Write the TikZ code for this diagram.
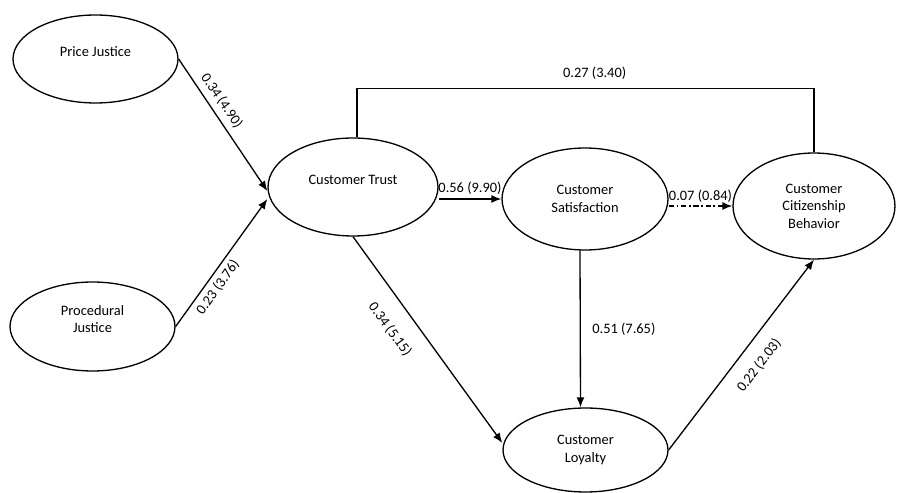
\documentclass[tikz,border=0pt]{standalone}
\usepackage{fontspec}
\setmainfont{Carlito}
\usetikzlibrary{shapes.geometric, arrows.meta, positioning, calc}
\newcommand{\liftup}[2]{\raisebox{#1}[\height][\depth]{#2}}

\begin{document}
\begin{tikzpicture}[x=0.02cm, y=-0.02cm,
    every node/.style={font=\fontsize{8.2}{10}\selectfont},
    construct/.style={draw, ellipse, line width=0.75pt, inner sep=0pt, align=center},
    link/.style={line width=0.75pt, -{Latex[length=2mm, width=1.6mm]}},
    coef/.style={inner sep=1.5pt}]
  \useasboundingbox (0,0) rectangle (897,493);

  \node[construct, minimum width=3.3cm, minimum height=1.76cm] (price) at (95.5,59) {\liftup{4pt}{Price Justice}};
  \node[construct, minimum width=3.3cm, minimum height=1.78cm] (proc) at (92.5,326.5)
    {\liftup{3.4pt}{\begin{tabular}{@{}c@{}}Procedural\\Justice\end{tabular}}};
  \node[construct, minimum width=3.4cm, minimum height=1.96cm] (trust) at (353,187) {\liftup{4pt}{Customer Trust}};
  \node[construct, minimum width=3.32cm, minimum height=2.04cm] (satis) at (585,199) {Customer\\Satisfaction};
  \node[construct, minimum width=3.24cm, minimum height=2.12cm] (citiz) at (814,206) {Customer\\Citizenship\\Behavior};
  \node[construct, minimum width=3.3cm, minimum height=1.68cm] (loyal) at (585.5,450) {Customer\\Loyalty};

  \draw[link] (price.east) -- node[coef, sloped, above=1.7pt, pos=0.37] {0.34 (4.90)} ([yshift=-0.08cm]trust.west);
  \draw[link] (proc.east) -- node[coef, sloped, below=1pt, pos=0.36] {0.23 (3.76)} ([yshift=-0.24cm]trust.west);
  \draw[link] (trust.east |- satis.west) -- node[coef, above=0.7pt] {0.56 (9.90)} (satis.west);
  \draw[link, dash pattern=on 3pt off 1.5pt on 1pt off 1.5pt] (satis.east |- citiz.west)
    -- node[coef, above=0pt] {0.07 (0.84)} (citiz.west);
  \draw[link] (trust.south) -- node[coef, sloped, below=8.4pt, pos=0.38] {0.34 (5.15)} ([yshift=0.14cm]loyal.west);
  \draw[link] ([xshift=-0.1cm]satis.south) -- node[coef, right=5pt] {0.51 (7.65)} ([xshift=-0.1cm]loyal.north);
  \draw[link] (loyal.east) -- node[coef, sloped, below=6.2pt, pos=0.51] {0.22 (2.03)} (citiz.south);
  \draw[line width=0.75pt] ([xshift=0.08cm]trust.north) |- node[coef, above=3pt, pos=0.76] {0.27 (3.40)}
    ([yshift=1.28cm]citiz.north) -- (citiz.north);
\end{tikzpicture}
\end{document}
